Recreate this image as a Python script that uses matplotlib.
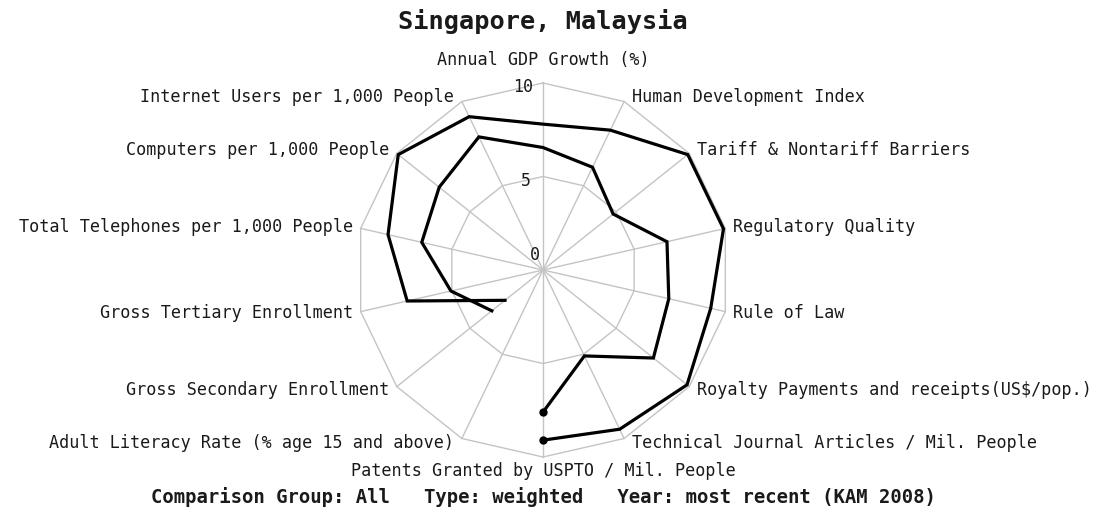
import numpy as np
import matplotlib
matplotlib.use("Agg")
import matplotlib.pyplot as plt

nan = np.nan

title = "Singapore, Malaysia"
footer = "Comparison Group: All   Type: weighted   Year: most recent (KAM 2008)"

variables = [
    "Annual GDP Growth (%)",
    "Human Development Index",
    "Tariff & Nontariff Barriers",
    "Regulatory Quality",
    "Rule of Law",
    "Royalty Payments and receipts(US$/pop.)",
    "Technical Journal Articles / Mil. People",
    "Patents Granted by USPTO / Mil. People",
    "Adult Literacy Rate (% age 15 and above)",
    "Gross Secondary Enrollment",
    "Gross Tertiary Enrollment",
    "Total Telephones per 1,000 People",
    "Computers per 1,000 People",
    "Internet Users per 1,000 People",
]

singapore = [7.8, 8.3, 9.9, 9.9, 9.2, 9.85, 9.45, 9.1, nan, 2.6, 7.45, 8.5, 9.9, 9.1]
malaysia = [6.55, 6.1, 4.8, 6.8, 6.9, 7.55, 5.1, 7.6, nan, 3.5, 5.05, 6.65, 7.1, 7.9]

ring_levels = [5, 10]
tick_values = [0, 5, 10]
tick_labels = ["0", "5", "10"]

# ---- figure / layout ----
W, H = 1099, 522
fig = plt.figure(figsize=(W / 100, H / 100), dpi=100)
fig.patch.set_facecolor("white")

cx, cy, R = 543, 270, 187  # pixel centre and radius of the radar
ax = fig.add_axes([(cx - R) / W, (H - cy - R) / H, 2 * R / W, 2 * R / H],
                  projection="polar")
ax.set_theta_zero_location("N")
ax.set_theta_direction(-1)
ax.set_ylim(0, 10)
ax.set_axis_off()

n = len(variables)
thetas = np.arange(n) * 2 * np.pi / n

grid_col = "#c4c4c4"
mono = "DejaVu Sans Mono"
txt_col = "#1a1a1a"

# spokes
for t in thetas:
    ax.plot([t, t], [0, 10], color=grid_col, lw=1.0, clip_on=False, zorder=1)
# polygon rings
for lv in ring_levels:
    ax.plot(np.append(thetas, thetas[0]), [lv] * (n + 1), color=grid_col,
            lw=1.0, clip_on=False, zorder=1)


def draw_series(vals):
    vals = np.asarray(vals, dtype=float)
    gap = int(np.where(np.isnan(vals))[0][0])
    order = [(gap + 1 + k) % n for k in range(n - 1)]
    ax.plot(thetas[order], vals[order], color="black", lw=2.3,
            solid_joinstyle="miter", clip_on=False, zorder=3)
    last = order[-1]
    ax.plot([thetas[last]], [vals[last]], "o", color="black", ms=5,
            clip_on=False, zorder=4)


draw_series(singapore)
draw_series(malaysia)

# axis labels
for t, lab in zip(thetas, variables):
    s, c = np.sin(t), np.cos(t)
    if abs(s) < 1e-6:
        ha = "center"
        dx = 0
        dy = 23 if c > 0 else -14
    else:
        ha = "left" if s > 0 else "right"
        dx = 8 if s > 0 else -8
        dy = 5 * c
    ax.annotate(lab, xy=(t, 10), xytext=(dx, dy), textcoords="offset pixels",
                ha=ha, va="center", fontsize=12.1, family=mono, color=txt_col,
                annotation_clip=False)

# radial tick labels
tick_offsets = {0: (-8, 15), 5: (-12, -4), 10: (-10, -4)}
for v, lab in zip(tick_values, tick_labels):
    dx, dy = tick_offsets[v]
    ax.annotate(lab, xy=(0, v), xytext=(dx, dy), textcoords="offset pixels",
                ha="center" if v == 0 else "right", va="center", fontsize=12,
                family=mono, color=txt_col, annotation_clip=False)

fig.text(cx / W, 1 - 21 / H, title, ha="center", va="center", fontsize=18.2,
         family=mono, fontweight="bold", color=txt_col)
fig.text(cx / W, 1 - 497 / H, footer, ha="center", va="center", fontsize=13.6,
         family=mono, fontweight="bold", color=txt_col)

fig.savefig("out.png", dpi=100, facecolor="white")
